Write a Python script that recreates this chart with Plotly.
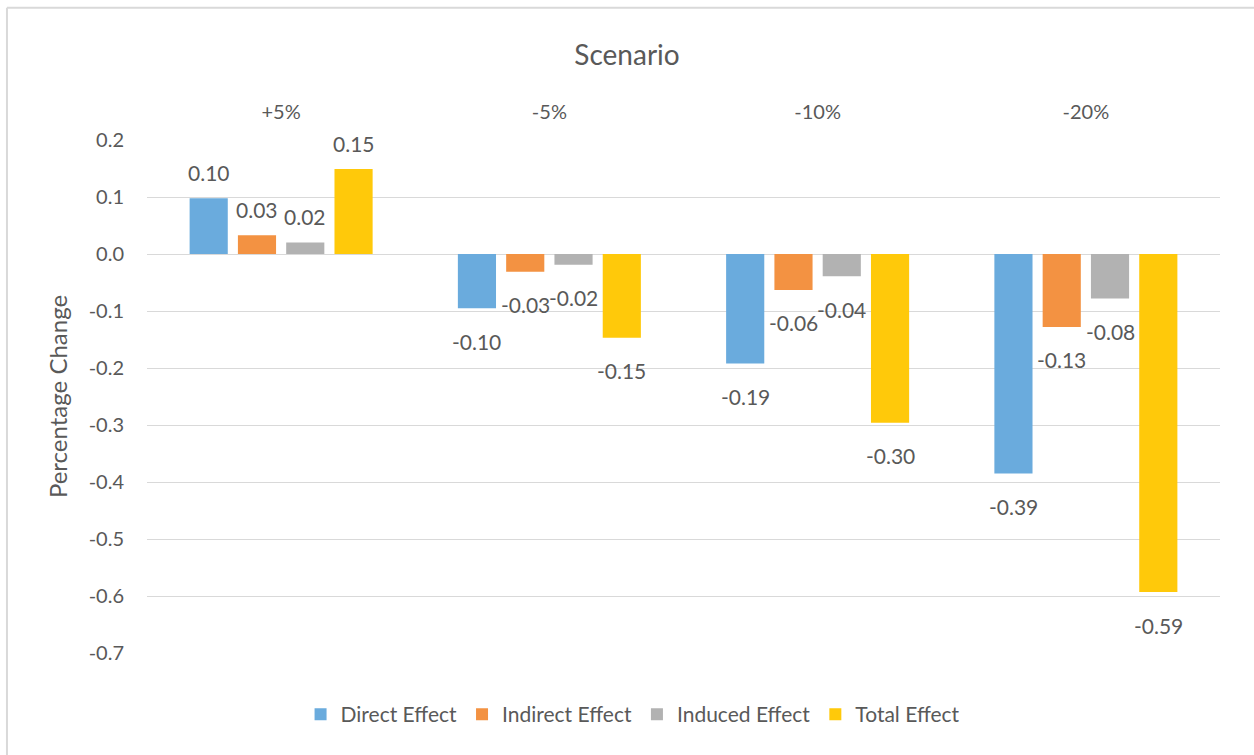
import plotly.graph_objects as go

categories = ["+5%", "-5%", "-10%", "-20%"]
series_names = ["Direct Effect", "Indirect Effect", "Induced Effect", "Total Effect"]
direct = [0.098, -0.095, -0.192, -0.385]
indirect = [0.033, -0.031, -0.063, -0.128]
induced = [0.020, -0.019, -0.039, -0.078]
total = [0.149, -0.147, -0.296, -0.593]
colors = ["#6AABDD", "#F39242", "#B2B2B2", "#FFC90A"]
y_tick_vals = [0.2, 0.1, 0.0, -0.1, -0.2, -0.3, -0.4, -0.5, -0.6, -0.7]
y_tick_text = ["0.2", "0.1", "0.0", "-0.1", "-0.2", "-0.3", "-0.4", "-0.5", "-0.6", "-0.7"]

series_values = [direct, indirect, induced, total]

FONT = "Lato"
TXT = "#595959"
BARGAP = 0.28
GROUPGAP = 0.21

fig = go.Figure()
for name, vals, col in zip(series_names, series_values, colors):
    fig.add_trace(go.Bar(
        name=name, x=list(range(len(categories))), y=vals,
        marker=dict(color=col, line=dict(width=0)),
    ))

slot = (1 - BARGAP) / len(series_names)
annotations = []
for j, vals in enumerate(series_values):
    for i, v in enumerate(vals):
        xpos = i + (j - (len(series_names) - 1) / 2) * slot
        annotations.append(dict(
            x=xpos, y=v, xref="x", yref="y",
            text=f"{v:.2f}".replace("\u2212", "-"), showarrow=False,
            yanchor="middle", yshift=26 if v >= 0 else -33,
            font=dict(family=FONT, size=21, color=TXT),
        ))

fig.update_layout(
    width=1254, height=755,
    margin=dict(l=147, r=34, t=140, b=102),
    paper_bgcolor="white", plot_bgcolor="white",
    barmode="group", bargap=BARGAP, bargroupgap=GROUPGAP,
    font=dict(family=FONT, size=20, color=TXT),
    title=dict(text="Scenario", x=0.5, xref="container", xanchor="center",
               y=1 - 55 / 755, yref="container", yanchor="middle",
               font=dict(family=FONT, size=28, color=TXT)),
    showlegend=True,
    legend=dict(orientation="h", x=0.453, xanchor="center", y=-0.08, yanchor="top",
                font=dict(family=FONT, size=21, color=TXT), itemwidth=30,
                traceorder="normal"),
    annotations=annotations,
    shapes=[
        dict(type="line", xref="paper", yref="paper", x0=-0.1305, x1=1.2, y0=1.258, y1=1.258,
             line=dict(color="#D9D9D9", width=2)),
        dict(type="line", xref="paper", yref="paper", x0=-0.1305, x1=-0.1305, y0=-0.5, y1=1.258,
             line=dict(color="#D9D9D9", width=2)),
    ],
)
fig.update_xaxes(
    side="top", tickmode="array", tickvals=list(range(len(categories))), ticktext=categories,
    range=[-0.5, len(categories) - 0.5], showgrid=False, zeroline=False, showline=False,
    ticks="", ticklabelstandoff=16, tickfont=dict(family=FONT, size=20, color=TXT),
)
fig.update_yaxes(
    range=[-0.7, 0.2], tickmode="array", tickvals=y_tick_vals, ticktext=y_tick_text,
    showgrid=True, gridcolor="#D9D9D9", gridwidth=1, zeroline=True, zerolinecolor="#D9D9D9",
    zerolinewidth=1, showline=False, ticks="", ticklabelstandoff=22,
    tickfont=dict(family=FONT, size=20, color=TXT),
    title=dict(text="Percentage Change", font=dict(family=FONT, size=24, color=TXT), standoff=14),
)

fig.write_html("out.html")
